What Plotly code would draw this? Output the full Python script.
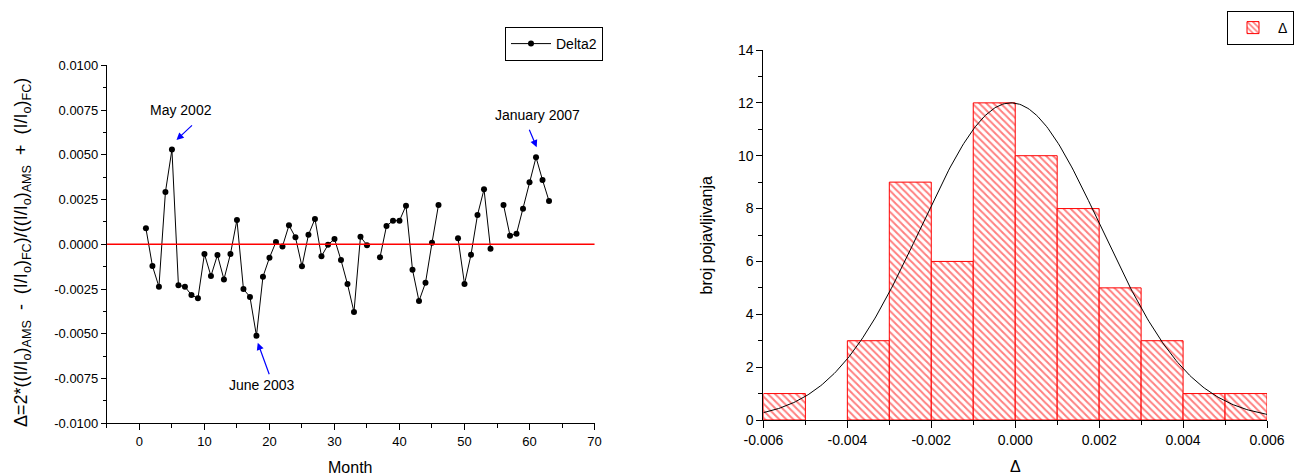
import numpy as np
import plotly.graph_objects as go

# ---------------- data ----------------
months = list(range(1, 64))
delta2 = [
    0.00089, -0.00121, -0.00237, 0.00292, 0.00529, -0.00229, -0.00237, -0.00283, -0.00302, -0.00054,
    -0.00177, -0.00060, -0.00196, -0.00054, 0.00136, -0.00250, -0.00294, -0.00511, -0.00181, -0.00075,
    0.00013, -0.00012, 0.00106, 0.00039, -0.00123, 0.00053, 0.00142, -0.00067, -0.00003, 0.00030,
    -0.00088, -0.00222, -0.00378, 0.00042, -0.00005, None, -0.00073, 0.00102, 0.00132, 0.00132,
    0.00216, -0.00142, -0.00317, -0.00215, 0.00008, 0.00220, None, None, 0.00034, -0.00222,
    -0.00058, 0.00164, 0.00307, -0.00025, None, 0.00220, 0.00048, 0.00059, 0.00199, 0.00346,
    0.00486, 0.00359, 0.00242,
]

bin_centers = [-0.0055, -0.0045, -0.0035, -0.0025, -0.0015, -0.0005,
               0.0005, 0.0015, 0.0025, 0.0035, 0.0045, 0.0055]
bin_counts = [1, 0, 3, 9, 6, 12, 10, 8, 5, 3, 1, 1]
bin_width = 0.001

fit_amplitude = 12.0
fit_center = -0.0001
fit_sigma = 0.00215

left_x_ticks = [0, 10, 20, 30, 40, 50, 60, 70]
left_y_ticks = [-0.01, -0.0075, -0.005, -0.0025, 0.0, 0.0025, 0.005, 0.0075, 0.01]
left_y_labels = ["-0.0100", "-0.0075", "-0.0050", "-0.0025", "0.0000",
                 "0.0025", "0.0050", "0.0075", "0.0100"]
right_x_ticks = [-0.006, -0.004, -0.002, 0.0, 0.002, 0.004, 0.006]
right_x_labels = ["-0.006", "-0.004", "-0.002", "0.000", "0.002", "0.004", "0.006"]
right_y_ticks = [0, 2, 4, 6, 8, 10, 12, 14]

annot_labels = ["May 2002", "June 2003", "January 2007"]

FONT = "Liberation Sans, Arial, sans-serif"
W, H = 1294, 476

def px(x):
    return x / W

def py(y):
    return 1 - y / H

fig = go.Figure()

# left: time series
fig.add_trace(go.Scatter(
    x=months, y=delta2, mode="lines+markers", name="Delta2",
    line=dict(color="black", width=1),
    marker=dict(color="black", size=6),
    connectgaps=False, xaxis="x", yaxis="y", legend="legend",
))

# right: histogram
fig.add_trace(go.Bar(
    x=bin_centers, y=bin_counts, width=bin_width, name="Δ",
    marker=dict(color="white",
                line=dict(color="red", width=[1 if c > 0 else 0 for c in bin_counts]),
                pattern=dict(shape="\\", fgcolor="red", bgcolor="white", size=5, solidity=0.4)),
    xaxis="x2", yaxis="y2", legend="legend2",
))

xf = np.linspace(-0.006, 0.006, 300)
yf = fit_amplitude * np.exp(-((xf - fit_center) ** 2) / (2 * fit_sigma ** 2))
fig.add_trace(go.Scatter(
    x=xf, y=yf, mode="lines", line=dict(color="black", width=1),
    showlegend=False, xaxis="x2", yaxis="y2",
))

def axis_common(size):
    return dict(
        showgrid=False, zeroline=False, showline=True, linecolor="black", linewidth=1,
        ticks="outside", tickcolor="black", tickwidth=1, automargin=False,
        tickfont=dict(family=FONT, size=size, color="black"),
    )

fig.update_layout(
    width=W, height=H, margin=dict(l=0, r=0, t=0, b=0),
    paper_bgcolor="white", plot_bgcolor="white",
    font=dict(family=FONT, color="black"),
    barmode="overlay",
    xaxis=dict(domain=[px(107), px(595)], range=[-5, 70],
               tickmode="array", tickvals=left_x_ticks, ticktext=[str(v) for v in left_x_ticks],
               ticklen=6,
               minor=dict(dtick=5, tick0=0, ticklen=4, ticks="outside", tickcolor="black"),
               anchor="y", **axis_common(13)),
    yaxis=dict(domain=[py(423.3), py(65.3)], range=[-0.01, 0.01],
               tickmode="array", tickvals=left_y_ticks, ticktext=left_y_labels, ticklen=5,
               minor=dict(dtick=0.00125, tick0=0, ticklen=3, ticks="outside", tickcolor="black"),
               anchor="x", **axis_common(13)),
    xaxis2=dict(domain=[px(764), px(1268)], range=[-0.006, 0.006],
                tickmode="array", tickvals=right_x_ticks, ticktext=right_x_labels, ticklen=7,
                minor=dict(dtick=0.001, tick0=0, ticklen=4, ticks="outside", tickcolor="black"),
                anchor="y2", **axis_common(14)),
    yaxis2=dict(domain=[py(420), py(50)], range=[0, 14],
                tickmode="array", tickvals=right_y_ticks, ticktext=[str(v) for v in right_y_ticks],
                ticklen=6,
                minor=dict(dtick=1, tick0=0, ticklen=4, ticks="outside", tickcolor="black"),
                anchor="x2", **axis_common(14)),
    legend=dict(x=px(505), y=py(27), xanchor="left", yanchor="top",
                bordercolor="black", borderwidth=1, bgcolor="white",
                font=dict(family=FONT, size=14, color="black"),
                tracegroupgap=0, itemwidth=40),
    legend2=dict(x=px(1228), y=py(11), xanchor="left", yanchor="top",
                 bordercolor="black", borderwidth=1, bgcolor="white",
                 font=dict(family=FONT, size=14, color="black"),
                 itemwidth=40),
)

# zero line
fig.add_shape(type="line", xref="x domain", yref="y", x0=0, x1=1, y0=0, y1=0,
              line=dict(color="red", width=1.5))

# annotations with arrows
arrow_specs = [
    # (label, arrow head x, y, ax, ay, text x, text y)
    (annot_labels[0], 5.7, 0.00583, 17, -16, 6.4, 0.0075),
    (annot_labels[1], 18.2, -0.0055, 12, 33, 18.8, -0.00786),
    (annot_labels[2], 61.1, 0.00542, -8, -19, 61.2, 0.00722),
]
for label, hx, hy, ax, ay, tx, ty in arrow_specs:
    fig.add_annotation(x=hx, y=hy, xref="x", yref="y", ax=ax, ay=ay, text="",
                       showarrow=True, arrowhead=2, arrowsize=1.2, arrowwidth=1.2,
                       arrowcolor="blue", standoff=0)
    fig.add_annotation(x=tx, y=ty, xref="x", yref="y", text=label, showarrow=False,
                       xanchor="center", yanchor="middle",
                       font=dict(family=FONT, size=14, color="black"))

# axis titles
ytitle = ("Δ=2*((I/I<sub>o</sub>)<sub>AMS</sub>  -  (I/I<sub>o</sub>)<sub>FC</sub>)/"
          "((I/I<sub>o</sub>)<sub>AMS</sub>  +  (I/I<sub>o</sub>)<sub>FC</sub>)")
fig.add_annotation(x=px(22), y=py(252), xref="paper", yref="paper", text=ytitle,
                   textangle=-90, showarrow=False, xanchor="center", yanchor="middle",
                   font=dict(family=FONT, size=18, color="black"))
fig.add_annotation(x=px(350), y=py(467), xref="paper", yref="paper", text="Month",
                   showarrow=False, xanchor="center", yanchor="middle",
                   font=dict(family=FONT, size=16, color="black"))
fig.add_annotation(x=px(707), y=py(235), xref="paper", yref="paper", text="broj pojavljivanja",
                   textangle=-90, showarrow=False, xanchor="center", yanchor="middle",
                   font=dict(family=FONT, size=16, color="black"))
fig.add_annotation(x=px(1016), y=py(466), xref="paper", yref="paper", text="Δ",
                   showarrow=False, xanchor="center", yanchor="middle",
                   font=dict(family=FONT, size=16, color="black"))

fig.write_html("out.html")
